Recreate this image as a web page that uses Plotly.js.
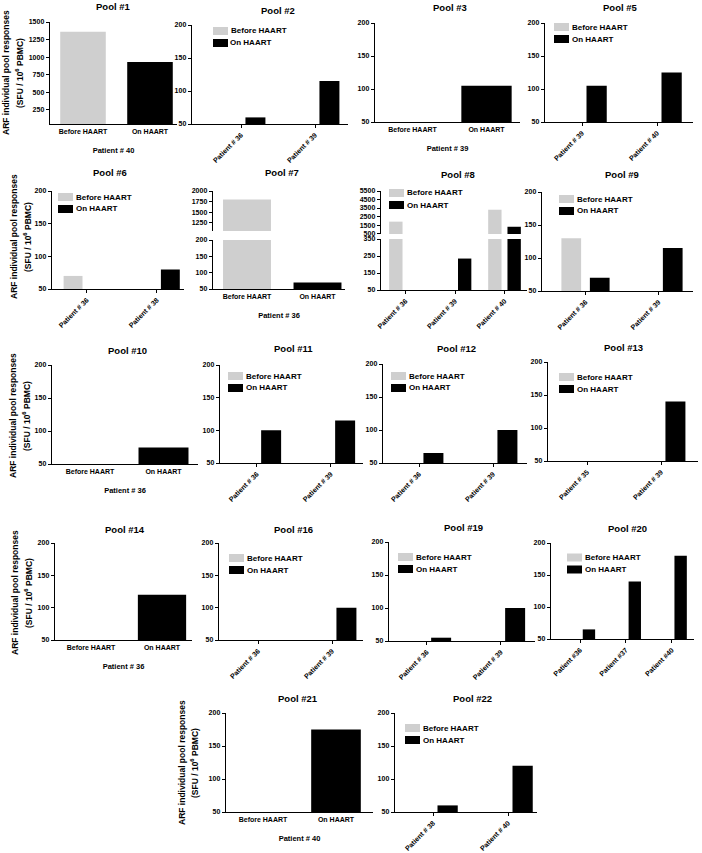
<!DOCTYPE html>
<html><head><meta charset="utf-8">
<script src="https://cdn.plot.ly/plotly-3.0.1.min.js"></script>
<style>html,body{margin:0;padding:0;background:#fff;} #chart{width:702px;height:853px;}</style>
</head><body><div id="chart"></div>
<script>
// ---------- DATA ----------
const haartStages = ["Before HAART", "On HAART"];

const pool1Stage = [1360, 930];
const pool3Stage = [0, 105];
const pool7Stage = [1800, 70];
const pool10Stage = [0, 75];
const pool14Stage = [0, 120];
const pool21Stage = [0, 175];

const pool1Patient = "Patient # 40";
const pool3Patient = "Patient # 39";
const pool7Patient = "Patient # 36";
const pool10Patient = "Patient # 36";
const pool14Patient = "Patient # 36";
const pool21Patient = "Patient # 40";

const pool2Patients = ["Patient # 36", "Patient # 39"];
const pool2Before = [0, 0];
const pool2On = [60, 115];

const pool5Patients = ["Patient # 39", "Patient # 40"];
const pool5Before = [0, 0];
const pool5On = [105, 125];

const pool6Patients = ["Patient # 36", "Patient # 38"];
const pool6Before = [70, 0];
const pool6On = [0, 80];

const pool8Patients = ["Patient # 36", "Patient # 39", "Patient # 40"];
const pool8Before = [1900, 0, 3300];
const pool8On = [0, 235, 1300];

const pool9Patients = ["Patient # 36", "Patient # 39"];
const pool9Before = [130, 0];
const pool9On = [70, 115];

const pool11Patients = ["Patient # 36", "Patient # 39"];
const pool11Before = [0, 0];
const pool11On = [100, 115];

const pool12Patients = ["Patient # 36", "Patient # 39"];
const pool12Before = [0, 0];
const pool12On = [65, 100];

const pool13Patients = ["Patient # 35", "Patient # 39"];
const pool13Before = [0, 0];
const pool13On = [0, 140];

const pool16Patients = ["Patient # 36", "Patient # 39"];
const pool16Before = [0, 0];
const pool16On = [0, 100];

const pool19Patients = ["Patient # 36", "Patient # 39"];
const pool19Before = [0, 0];
const pool19On = [55, 100];

const pool20Patients = ["Patient #36", "Patient #37", "Patient #40"];
const pool20Before = [0, 0, 0];
const pool20On = [65, 140, 180];

const pool22Patients = ["Patient # 38", "Patient # 40"];
const pool22Before = [0, 0];
const pool22On = [60, 120];

const seriesNames = ["Before HAART", "On HAART"];
const yTitleLine1 = "ARF individual pool responses";
const yTitleLine2 = "(SFU / 10<sup>6</sup> PBMC)";

// ---------- LAYOUT TABLE (pixel geometry) ----------
const W = 702, H = 853;
const GRAY = '#cfcfcf', BLACK = '#000000';
const FONT = '"Liberation Sans", Arial, Helvetica, sans-serif';

const panels = [
  {name:'Pool #1', cats:haartStages, stage:pool1Stage, xTitle:pool1Patient, box:[50,177,22,124], tk:[83,150], yr:[50,1500], dt:250, t0:0, tp:[113,7], yTitle:[6,19,73]},
  {name:'Pool #2', cats:pool2Patients, before:pool2Before, on:pool2On, box:[192,348,25,124], tk:[241,315], tp:[278,10], leg:[213,31]},
  {name:'Pool #3', cats:haartStages, stage:pool3Stage, xTitle:pool3Patient, box:[375,520,23,122], tk:[412.5,486.5], tp:[450,8]},
  {name:'Pool #5', cats:pool5Patients, before:pool5Before, on:pool5On, box:[545,693,23,122], tk:[582,657], tp:[620,8], leg:[554,27]},
  {name:'Pool #6', cats:pool6Patients, before:pool6Before, on:pool6On, box:[52,184,191,289], tk:[86.7,156.7], tp:[110,173], leg:[58,197], yTitle:[14,27,237]},
  {name:'Pool #7', cats:haartStages, stage:pool7Stage, xTitle:pool7Patient, box:[213,345,240,289], tk:[247,317.5], tp:[282,173],
     upper:{box:[191,231], yr:[1050,2000], dt:250, t0:0}},
  {name:'Pool #8', cats:pool8Patients, before:pool8Before, on:pool8On, box:[381,527,239,290], tk:[405.5,504.5], tp:[458,175], leg:[389,193],
     yr:[50,350], dt:100, t0:50, upper:{box:[191,234], yr:[450,5500], dt:1000, t0:500}},
  {name:'Pool #9', cats:pool9Patients, before:pool9Before, on:pool9On, box:[542,693,192,291], tk:[585.5,658.5], tp:[622,175], leg:[559,199]},
  {name:'Pool #10', cats:haartStages, stage:pool10Stage, xTitle:pool10Patient, box:[52,198,365,464], tk:[90,163.5], tp:[127,351], yTitle:[13,26,416]},
  {name:'Pool #11', cats:pool11Patients, before:pool11Before, on:pool11On, box:[220,363,365,463], tk:[256.7,330.7], tp:[293,349], leg:[228,376]},
  {name:'Pool #12', cats:pool12Patients, before:pool12Before, on:pool12On, box:[383,527,364,463], tk:[419,493], tp:[457,349], leg:[391,376]},
  {name:'Pool #13', cats:pool13Patients, before:pool13Before, on:pool13On, box:[548,698,362,461], tk:[587,661], tp:[623,347], leg:[559,377]},
  {name:'Pool #14', cats:haartStages, stage:pool14Stage, xTitle:pool14Patient, box:[55,192,543,640], tk:[91,162], tp:[125,529], yTitle:[15,28,593]},
  {name:'Pool #16', cats:pool16Patients, before:pool16Before, on:pool16On, box:[219,363,543,640], tk:[258,332], tp:[293,529], leg:[229,558]},
  {name:'Pool #19', cats:pool19Patients, before:pool19Before, on:pool19On, box:[389,535,542,641], tk:[426.7,500.7], tp:[463,527], leg:[398,557]},
  {name:'Pool #20', cats:pool20Patients, before:pool20Before, on:pool20On, box:[551,694,543,639], tk:[580,671.7], tp:[627,528], leg:[567,557.5]},
  {name:'Pool #21', cats:haartStages, stage:pool21Stage, xTitle:pool21Patient, box:[226,373,713,812], tk:[263,336], tp:[298,698], yTitle:[182,194,763]},
  {name:'Pool #22', cats:pool22Patients, before:pool22Before, on:pool22On, box:[395,537,713,812], tk:[433,508], tp:[472,698], leg:[405,728]}
];

const px2x = v => v / W;
const px2y = v => 1 - v / H;
const tickFont = {family: FONT, size: 7, color: '#000', weight: 'bold'};

const data = [];
const layout = {
  width: W, height: H,
  margin: {l:0, r:0, t:0, b:0},
  showlegend: false,
  barmode: 'overlay',
  paper_bgcolor: '#ffffff',
  plot_bgcolor: 'rgba(0,0,0,0)',
  font: {family: FONT, size: 7, color: '#000', weight: 'bold'},
  annotations: [],
  shapes: []
};

function yAxisCfg(domainPx, anchor, yr, dt, t0) {
  return {
    domain: [px2y(domainPx[1]), px2y(domainPx[0])],
    anchor: anchor, range: yr, dtick: dt, tick0: t0, tickmode: 'linear',
    showline: true, linewidth: 1.3, linecolor: '#000',
    ticks: 'outside', ticklen: 3, tickwidth: 1, tickcolor: '#000',
    showgrid: false, zeroline: false, fixedrange: true,
    tickfont: tickFont
  };
}

let extraId = panels.length;
panels.forEach((p, i) => {
  const n = i + 1;
  const s = n === 1 ? '' : String(n);
  const xid = 'x' + s, yid = 'y' + s;
  const nc = p.cats.length;
  const sp = (p.tk[1] - p.tk[0]) / (nc - 1);
  const r0 = (p.box[0] - p.tk[0]) / sp, r1 = (p.box[1] - p.tk[0]) / sp;
  const grouped = !p.stage;

  const xa = {
    domain: [px2x(p.box[0]), px2x(p.box[1])], anchor: yid,
    type: 'category', categoryorder: 'array', categoryarray: p.cats,
    range: [r0, r1],
    showline: true, linewidth: 1.3, linecolor: '#000',
    ticks: grouped ? 'outside' : '', ticklen: 3, tickwidth: 1, tickcolor: '#000',
    tickangle: grouped ? -45 : 0,
    showgrid: false, zeroline: false, fixedrange: true,
    tickfont: tickFont
  };
  if (p.xTitle) xa.title = {text: p.xTitle, standoff: 14, font: {family: FONT, size: 7.5, color: '#000', weight: 'bold'}};
  layout['xaxis' + s] = xa;

  layout['yaxis' + s] = yAxisCfg([p.box[2], p.box[3]], xid, p.yr || [50, 200], p.dt || 50, p.t0 == null ? 0 : p.t0);

  if (p.yTitle) {
    [yTitleLine1, yTitleLine2].forEach((txt, k) => {
      layout.annotations.push({
        text: txt, xref: 'paper', yref: 'paper', x: px2x(p.yTitle[k]), y: px2y(p.yTitle[2]),
        xanchor: 'center', yanchor: 'middle', textangle: -90, showarrow: false,
        font: {family: FONT, size: 8.5, color: '#000', weight: 'bold'}
      });
    });
  }

  const yids = [yid];
  if (p.upper) {
    extraId += 1;
    const us = String(extraId);
    layout['yaxis' + us] = yAxisCfg(p.upper.box, xid, p.upper.yr, p.upper.dt, p.upper.t0);
    yids.push('y' + us);
  }

  yids.forEach(yy => {
    if (grouped) {
      data.push({type:'bar', name: seriesNames[0], x: p.cats, y: p.before, xaxis: xid, yaxis: yy,
        width: 0.27, offset: -0.33, marker: {color: GRAY, line: {width: 0}}, hoverinfo: 'skip'});
      data.push({type:'bar', name: seriesNames[1], x: p.cats, y: p.on, xaxis: xid, yaxis: yy,
        width: 0.27, offset: 0.06, marker: {color: BLACK, line: {width: 0}}, hoverinfo: 'skip'});
    } else {
      data.push({type:'bar', name: p.name, x: p.cats, y: p.stage, xaxis: xid, yaxis: yy,
        width: 0.68, offset: -0.34, marker: {color: [GRAY, BLACK], line: {width: 0}}, hoverinfo: 'skip'});
    }
  });

  layout.annotations.push({
    text: p.name, xref: 'paper', yref: 'paper', x: px2x(p.tp[0]), y: px2y(p.tp[1]),
    xanchor: 'center', yanchor: 'middle', showarrow: false,
    font: {family: FONT, size: 9.5, color: '#000', weight: 'bold'}
  });

  if (p.leg) {
    const colors = [GRAY, BLACK];
    seriesNames.forEach((nm, k) => {
      const cy = p.leg[1] + k * 12;
      layout.shapes.push({type:'rect', xref:'paper', yref:'paper',
        x0: px2x(p.leg[0]), x1: px2x(p.leg[0] + 15), y0: px2y(cy + 4), y1: px2y(cy - 4),
        fillcolor: colors[k], line: {width: 0}});
      layout.annotations.push({text: nm, xref:'paper', yref:'paper', x: px2x(p.leg[0] + 15.5), y: px2y(cy),
        xanchor: 'left', yanchor: 'middle', showarrow: false,
        font: {family: FONT, size: 8, color: '#000', weight: 'bold'}});
    });
  }
});

Plotly.newPlot('chart', data, layout, {staticPlot: true, displayModeBar: false});
</script>
</body></html>
